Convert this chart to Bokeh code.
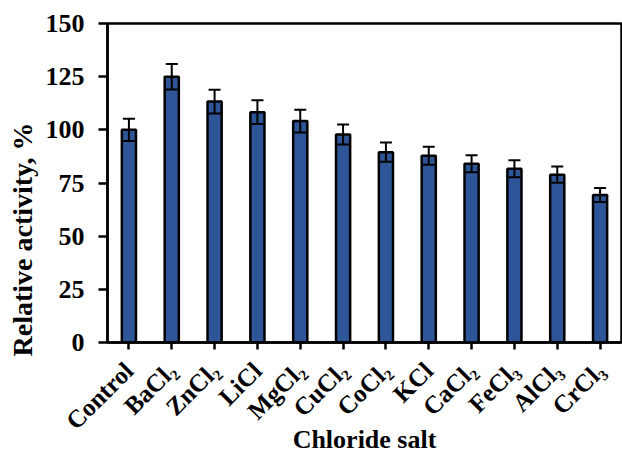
import math
from bokeh.plotting import figure
from bokeh.models import ColumnDataSource, FactorRange, Range1d, FixedTicker, Whisker, TeeHead, Title
from bokeh.embed import file_html
from bokeh.resources import INLINE

categories = ["Control", "BaCl\u2082", "ZnCl\u2082", "LiCl", "MgCl\u2082", "CuCl\u2082",
              "CoCl\u2082", "KCl", "CaCl\u2082", "FeCl\u2083", "AlCl\u2083", "CrCl\u2083"]
activity = [100.0, 125.0, 113.3, 108.3, 104.1, 97.8, 89.5, 87.8, 84.1, 81.7, 78.9, 69.4]
errors = [5.2, 6.0, 5.6, 5.6, 5.3, 4.7, 4.5, 4.2, 4.0, 4.0, 3.8, 3.3]
y_ticks = [0, 25, 50, 75, 100, 125, 150]

FONT = "Liberation Serif"
BAR = "#2E5597"

src = ColumnDataSource(dict(
    x=categories,
    top=activity,
    upper=[a + e for a, e in zip(activity, errors)],
    lower=[a - e for a, e in zip(activity, errors)],
))

p = figure(width=622, height=457, output_backend="svg", toolbar_location=None,
           x_range=FactorRange(factors=categories, range_padding=0),
           y_range=Range1d(0, 150),
           min_border_left=106, min_border_right=1, min_border_top=23, min_border_bottom=114)

p.vbar(x="x", top="top", width=0.33, source=src, fill_color=BAR,
       line_color="black", line_width=2.5)

w = Whisker(base="x", upper="upper", lower="lower", source=src, dimension="height",
            line_color="black", line_width=2,
            upper_head=TeeHead(size=12, line_width=2, line_color="black"),
            lower_head=TeeHead(size=12, line_width=2, line_color="black"))
w.level = "overlay"
p.add_layout(w)

p.xgrid.visible = False
p.ygrid.visible = False
p.outline_line_color = "black"
p.outline_line_width = 2.5
p.background_fill_color = "white"
p.border_fill_color = "white"

p.yaxis.ticker = FixedTicker(ticks=y_ticks)
p.yaxis.minor_tick_line_color = None
p.yaxis.major_tick_in = 0
p.yaxis.major_tick_out = 9
p.yaxis.major_tick_line_width = 2.5
p.yaxis.axis_line_width = 2.5
p.yaxis.major_label_standoff = 14
p.yaxis.major_label_text_font = FONT
p.yaxis.major_label_text_font_style = "bold"
p.yaxis.major_label_text_font_size = "26px"
p.yaxis.major_label_text_color = "black"

p.xaxis.major_tick_in = 0
p.xaxis.major_tick_out = 7
p.xaxis.major_tick_line_width = 2.5
p.xaxis.axis_line_width = 2.5
p.xaxis.major_label_orientation = math.pi / 4
p.xaxis.major_label_standoff = 17
p.xaxis.major_label_text_font = FONT
p.xaxis.major_label_text_font_style = "bold"
p.xaxis.major_label_text_font_size = "25px"
p.xaxis.major_label_text_color = "black"
p.xaxis.axis_label = "Chloride salt"
p.xaxis.axis_label_text_font = FONT
p.xaxis.axis_label_text_font_style = "bold"
p.xaxis.axis_label_text_font_size = "26px"
p.xaxis.axis_label_text_line_height = 0.8
p.xaxis.axis_label_text_color = "black"
p.xaxis.axis_label_standoff = -22

p.add_layout(Title(text="Relative activity, %", align="left", offset=-14,
                   text_font=FONT, text_font_style="bold", text_font_size="28px",
                   text_color="black", standoff=9), "left")

open("out.html", "w").write(file_html(p, INLINE))
